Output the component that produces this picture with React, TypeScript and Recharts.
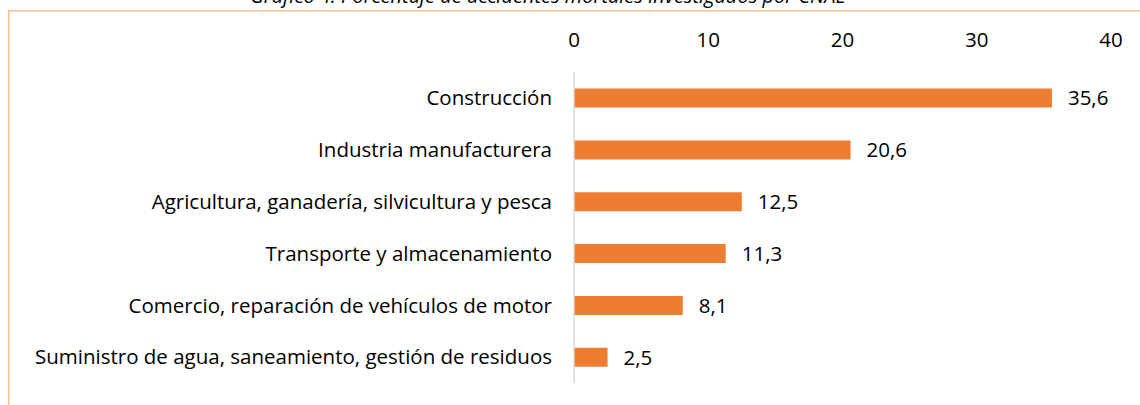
import React from 'react';
import { BarChart, Bar, XAxis, YAxis, LabelList } from 'recharts';

const categories = [
  'Construcción',
  'Industria manufacturera',
  'Agricultura, ganadería, silvicultura y pesca',
  'Transporte y almacenamiento',
  'Comercio, reparación de vehículos de motor',
  'Suministro de agua, saneamiento, gestión de residuos',
];
const values = [35.6, 20.6, 12.5, 11.3, 8.1, 2.5];
const xTicks = [0, 10, 20, 30, 40];
const title = 'Gráfico 4. Porcentaje de accidentes mortales investigados por CNAE';

const data = categories.map((c, i) => ({ name: c, value: values[i] }));

const FONT = '"Open Sans", sans-serif';
const FS = 20.5;

export default function App() {
  return (
    <div style={{ position: 'absolute', left: 0, top: 0, width: 1140, height: 405, background: '#fff', overflow: 'hidden' }}>
      <svg width={1140} height={405} style={{ position: 'absolute', left: 0, top: 0 }}>
        <rect x={8.75} y={10.75} width={1200} height={500} fill="none" stroke="#fac090" strokeWidth={1.5} />
        <text x={548} y={3} textAnchor="middle" fontFamily={FONT} fontStyle="italic" fontSize={20} fill="#000">
          {title}
        </text>
      </svg>
      <div style={{ position: 'absolute', left: 0, top: 0 }}>
        <BarChart
          width={1140}
          height={405}
          data={data}
          layout="vertical"
          margin={{ top: 10, right: 29, bottom: 22, left: 0 }}
          barCategoryGap="32%"
        >
          <XAxis
            type="number"
            orientation="top"
            domain={[0, 40]}
            ticks={xTicks}
            axisLine={false}
            tickLine={false}
            tickSize={0}
            tickMargin={25}
            height={62}
            tick={{ fontFamily: FONT, fontSize: FS, fill: '#000' }}
          />
          <YAxis
            type="category"
            dataKey="name"
            width={574}
            axisLine={{ stroke: '#d9d9d9', strokeWidth: 1.5 }}
            tickLine={false}
            tickSize={0}
            tickMargin={22}
            interval={0}
            tick={{ fontFamily: FONT, fontSize: FS, fill: '#000' }}
          />
          <Bar dataKey="value" fill="#ed7d31" isAnimationActive={false}>
            <LabelList
              dataKey="value"
              position="right"
              offset={16}
              formatter={(v: number) => v.toFixed(1).replace('.', ',')}
              style={{ fontFamily: FONT, fontSize: FS, fill: '#000' }}
            />
          </Bar>
        </BarChart>
      </div>
    </div>
  );
}
